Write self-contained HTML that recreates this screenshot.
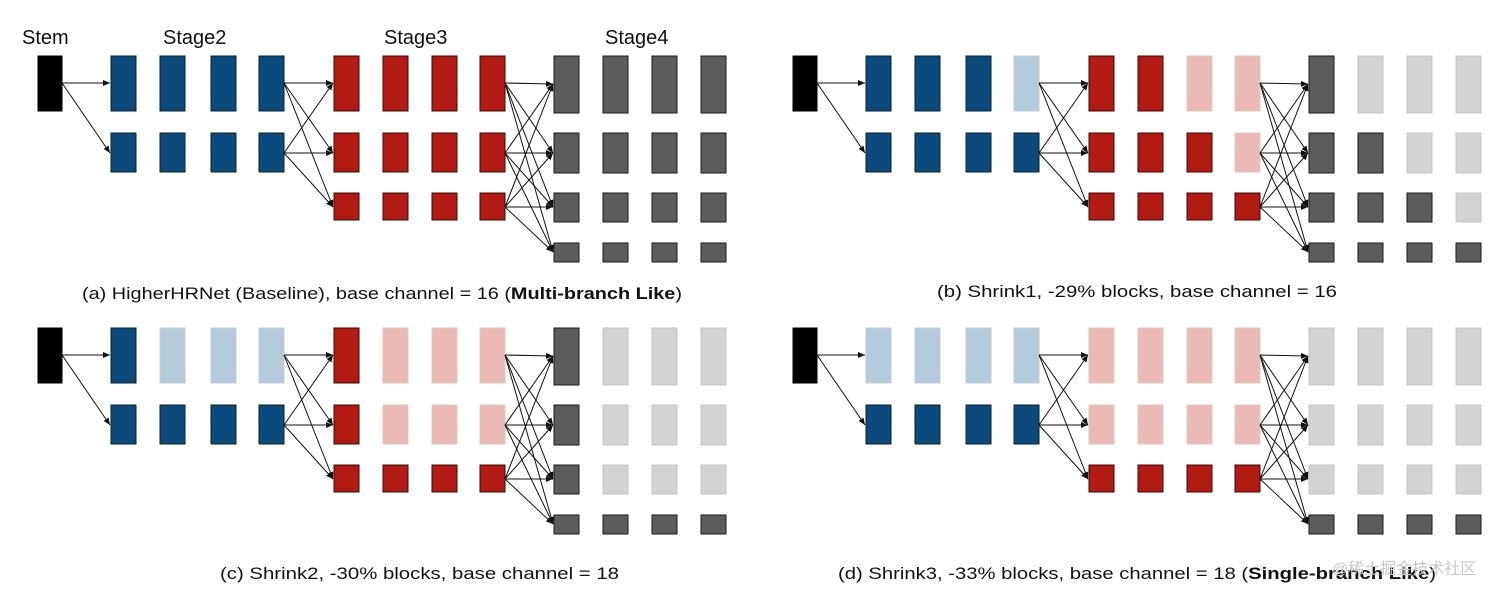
<!DOCTYPE html>
<html><head><meta charset="utf-8"><style>
html,body{margin:0;padding:0;background:#fff;}
svg{display:block;}
.k{fill:#000;stroke:#000;stroke-width:1}
.b{fill:#0b4a7b;stroke:#0a2030;stroke-width:1}
.bl{fill:#b4cbdb;stroke:#c0ccd6;stroke-width:1}
.r{fill:#b21b14;stroke:#3a0806;stroke-width:1}
.rl{fill:#ebbab6;stroke:#dcc8c4;stroke-width:1}
.g{fill:#5c5c5c;stroke:#1a1a1a;stroke-width:1}
.gl{fill:#d3d3d3;stroke:#c4c4c4;stroke-width:1}
line{stroke:#111;stroke-width:1;marker-end:url(#ah)}
text{font-family:"Liberation Sans",Arial,sans-serif;fill:#111}
</style></head><body>
<svg width="1512" height="595" viewBox="0 0 1512 595" xmlns="http://www.w3.org/2000/svg">
<defs>
<marker id="ah" markerWidth="8" markerHeight="8" refX="7" refY="3" orient="auto" markerUnits="userSpaceOnUse">
<path d="M0,0 L7,3 L0,6 z" fill="#111"/></marker>
<g id="arr">
<line x1="62" y1="83" x2="110" y2="83"/><line x1="62" y1="83" x2="110" y2="153"/>
<line x1="284" y1="83" x2="333" y2="83"/><line x1="284" y1="83" x2="333" y2="153"/><line x1="284" y1="83" x2="333" y2="207"/>
<line x1="284" y1="153" x2="333" y2="83"/><line x1="284" y1="153" x2="333" y2="153"/><line x1="284" y1="153" x2="333" y2="207"/>
<line x1="505" y1="83" x2="553" y2="84"/><line x1="505" y1="83" x2="553" y2="153"/><line x1="505" y1="83" x2="553" y2="207"/><line x1="505" y1="83" x2="553" y2="252"/>
<line x1="505" y1="153" x2="553" y2="84"/><line x1="505" y1="153" x2="553" y2="153"/><line x1="505" y1="153" x2="553" y2="207"/><line x1="505" y1="153" x2="553" y2="252"/>
<line x1="505" y1="207" x2="553" y2="84"/><line x1="505" y1="207" x2="553" y2="153"/><line x1="505" y1="207" x2="553" y2="207"/><line x1="505" y1="207" x2="553" y2="252"/>
</g>
</defs>

<text x="22" y="44" font-size="20">Stem</text>
<text x="163" y="44" font-size="20">Stage2</text>
<text x="384" y="44" font-size="20">Stage3</text>
<text x="605" y="44" font-size="20">Stage4</text>

<!-- Panel A -->
<g>
<rect class="k" x="38" y="56" width="24" height="55"/>
<rect class="b" x="111" y="56" width="25" height="55"/><rect class="b" x="160" y="56" width="25" height="55"/><rect class="b" x="211" y="56" width="25" height="55"/><rect class="b" x="259" y="56" width="25" height="55"/>
<rect class="b" x="111" y="133" width="25" height="39"/><rect class="b" x="160" y="133" width="25" height="39"/><rect class="b" x="211" y="133" width="25" height="39"/><rect class="b" x="259" y="133" width="25" height="39"/>
<rect class="r" x="334" y="56" width="25" height="55"/><rect class="r" x="383" y="56" width="25" height="55"/><rect class="r" x="432" y="56" width="25" height="55"/><rect class="r" x="480" y="56" width="25" height="55"/>
<rect class="r" x="334" y="133" width="25" height="39"/><rect class="r" x="383" y="133" width="25" height="39"/><rect class="r" x="432" y="133" width="25" height="39"/><rect class="r" x="480" y="133" width="25" height="39"/>
<rect class="r" x="334" y="193" width="25" height="27"/><rect class="r" x="383" y="193" width="25" height="27"/><rect class="r" x="432" y="193" width="25" height="27"/><rect class="r" x="480" y="193" width="25" height="27"/>
<rect class="g" x="554" y="56" width="25" height="57"/><rect class="g" x="603" y="56" width="25" height="57"/><rect class="g" x="652" y="56" width="25" height="57"/><rect class="g" x="701" y="56" width="25" height="57"/>
<rect class="g" x="554" y="133" width="25" height="40"/><rect class="g" x="603" y="133" width="25" height="40"/><rect class="g" x="652" y="133" width="25" height="40"/><rect class="g" x="701" y="133" width="25" height="40"/>
<rect class="g" x="554" y="193" width="25" height="29"/><rect class="g" x="603" y="193" width="25" height="29"/><rect class="g" x="652" y="193" width="25" height="29"/><rect class="g" x="701" y="193" width="25" height="29"/>
<rect class="g" x="554" y="243" width="25" height="19"/><rect class="g" x="603" y="243" width="25" height="19"/><rect class="g" x="652" y="243" width="25" height="19"/><rect class="g" x="701" y="243" width="25" height="19"/>
<use href="#arr"/>
</g>

<!-- Panel B -->
<g transform="translate(755,0)">
<rect class="k" x="38" y="56" width="24" height="55"/>
<rect class="b" x="111" y="56" width="25" height="55"/><rect class="b" x="160" y="56" width="25" height="55"/><rect class="b" x="211" y="56" width="25" height="55"/><rect class="bl" x="259" y="56" width="25" height="55"/>
<rect class="b" x="111" y="133" width="25" height="39"/><rect class="b" x="160" y="133" width="25" height="39"/><rect class="b" x="211" y="133" width="25" height="39"/><rect class="b" x="259" y="133" width="25" height="39"/>
<rect class="r" x="334" y="56" width="25" height="55"/><rect class="r" x="383" y="56" width="25" height="55"/><rect class="rl" x="432" y="56" width="25" height="55"/><rect class="rl" x="480" y="56" width="25" height="55"/>
<rect class="r" x="334" y="133" width="25" height="39"/><rect class="r" x="383" y="133" width="25" height="39"/><rect class="r" x="432" y="133" width="25" height="39"/><rect class="rl" x="480" y="133" width="25" height="39"/>
<rect class="r" x="334" y="193" width="25" height="27"/><rect class="r" x="383" y="193" width="25" height="27"/><rect class="r" x="432" y="193" width="25" height="27"/><rect class="r" x="480" y="193" width="25" height="27"/>
<rect class="g" x="554" y="56" width="25" height="57"/><rect class="gl" x="603" y="56" width="25" height="57"/><rect class="gl" x="652" y="56" width="25" height="57"/><rect class="gl" x="701" y="56" width="25" height="57"/>
<rect class="g" x="554" y="133" width="25" height="40"/><rect class="g" x="603" y="133" width="25" height="40"/><rect class="gl" x="652" y="133" width="25" height="40"/><rect class="gl" x="701" y="133" width="25" height="40"/>
<rect class="g" x="554" y="193" width="25" height="29"/><rect class="g" x="603" y="193" width="25" height="29"/><rect class="g" x="652" y="193" width="25" height="29"/><rect class="gl" x="701" y="193" width="25" height="29"/>
<rect class="g" x="554" y="243" width="25" height="19"/><rect class="g" x="603" y="243" width="25" height="19"/><rect class="g" x="652" y="243" width="25" height="19"/><rect class="g" x="701" y="243" width="25" height="19"/>
<use href="#arr"/>
</g>

<!-- Panel C -->
<g transform="translate(0,272)">
<rect class="k" x="38" y="56" width="24" height="55"/>
<rect class="b" x="111" y="56" width="25" height="55"/><rect class="bl" x="160" y="56" width="25" height="55"/><rect class="bl" x="211" y="56" width="25" height="55"/><rect class="bl" x="259" y="56" width="25" height="55"/>
<rect class="b" x="111" y="133" width="25" height="39"/><rect class="b" x="160" y="133" width="25" height="39"/><rect class="b" x="211" y="133" width="25" height="39"/><rect class="b" x="259" y="133" width="25" height="39"/>
<rect class="r" x="334" y="56" width="25" height="55"/><rect class="rl" x="383" y="56" width="25" height="55"/><rect class="rl" x="432" y="56" width="25" height="55"/><rect class="rl" x="480" y="56" width="25" height="55"/>
<rect class="r" x="334" y="133" width="25" height="39"/><rect class="rl" x="383" y="133" width="25" height="39"/><rect class="rl" x="432" y="133" width="25" height="39"/><rect class="rl" x="480" y="133" width="25" height="39"/>
<rect class="r" x="334" y="193" width="25" height="27"/><rect class="r" x="383" y="193" width="25" height="27"/><rect class="r" x="432" y="193" width="25" height="27"/><rect class="r" x="480" y="193" width="25" height="27"/>
<rect class="g" x="554" y="56" width="25" height="57"/><rect class="gl" x="603" y="56" width="25" height="57"/><rect class="gl" x="652" y="56" width="25" height="57"/><rect class="gl" x="701" y="56" width="25" height="57"/>
<rect class="g" x="554" y="133" width="25" height="40"/><rect class="gl" x="603" y="133" width="25" height="40"/><rect class="gl" x="652" y="133" width="25" height="40"/><rect class="gl" x="701" y="133" width="25" height="40"/>
<rect class="g" x="554" y="193" width="25" height="29"/><rect class="gl" x="603" y="193" width="25" height="29"/><rect class="gl" x="652" y="193" width="25" height="29"/><rect class="gl" x="701" y="193" width="25" height="29"/>
<rect class="g" x="554" y="243" width="25" height="19"/><rect class="g" x="603" y="243" width="25" height="19"/><rect class="g" x="652" y="243" width="25" height="19"/><rect class="g" x="701" y="243" width="25" height="19"/>
<use href="#arr"/>
</g>

<!-- Panel D -->
<g transform="translate(755,272)">
<rect class="k" x="38" y="56" width="24" height="55"/>
<rect class="bl" x="111" y="56" width="25" height="55"/><rect class="bl" x="160" y="56" width="25" height="55"/><rect class="bl" x="211" y="56" width="25" height="55"/><rect class="bl" x="259" y="56" width="25" height="55"/>
<rect class="b" x="111" y="133" width="25" height="39"/><rect class="b" x="160" y="133" width="25" height="39"/><rect class="b" x="211" y="133" width="25" height="39"/><rect class="b" x="259" y="133" width="25" height="39"/>
<rect class="rl" x="334" y="56" width="25" height="55"/><rect class="rl" x="383" y="56" width="25" height="55"/><rect class="rl" x="432" y="56" width="25" height="55"/><rect class="rl" x="480" y="56" width="25" height="55"/>
<rect class="rl" x="334" y="133" width="25" height="39"/><rect class="rl" x="383" y="133" width="25" height="39"/><rect class="rl" x="432" y="133" width="25" height="39"/><rect class="rl" x="480" y="133" width="25" height="39"/>
<rect class="r" x="334" y="193" width="25" height="27"/><rect class="r" x="383" y="193" width="25" height="27"/><rect class="r" x="432" y="193" width="25" height="27"/><rect class="r" x="480" y="193" width="25" height="27"/>
<rect class="gl" x="554" y="56" width="25" height="57"/><rect class="gl" x="603" y="56" width="25" height="57"/><rect class="gl" x="652" y="56" width="25" height="57"/><rect class="gl" x="701" y="56" width="25" height="57"/>
<rect class="gl" x="554" y="133" width="25" height="40"/><rect class="gl" x="603" y="133" width="25" height="40"/><rect class="gl" x="652" y="133" width="25" height="40"/><rect class="gl" x="701" y="133" width="25" height="40"/>
<rect class="gl" x="554" y="193" width="25" height="29"/><rect class="gl" x="603" y="193" width="25" height="29"/><rect class="gl" x="652" y="193" width="25" height="29"/><rect class="gl" x="701" y="193" width="25" height="29"/>
<rect class="g" x="554" y="243" width="25" height="19"/><rect class="g" x="603" y="243" width="25" height="19"/><rect class="g" x="652" y="243" width="25" height="19"/><rect class="g" x="701" y="243" width="25" height="19"/>
<use href="#arr"/>
</g>

<text x="82" y="299" font-size="17" textLength="600" lengthAdjust="spacingAndGlyphs">(a) HigherHRNet (Baseline), base channel = 16 (<tspan font-weight="bold">Multi-branch Like</tspan>)</text>
<text x="937" y="297" font-size="17" textLength="400" lengthAdjust="spacingAndGlyphs">(b) Shrink1, -29% blocks, base channel = 16</text>
<text x="220" y="579" font-size="17" textLength="399" lengthAdjust="spacingAndGlyphs">(c) Shrink2, -30% blocks, base channel = 18</text>
<text x="838" y="579" font-size="17" textLength="598" lengthAdjust="spacingAndGlyphs">(d) Shrink3, -33% blocks, base channel = 18 (<tspan font-weight="bold">Single-branch Like</tspan>)</text>
<text x="1332" y="574" font-size="16" style="font-family:'Liberation Sans','Noto Sans CJK SC',sans-serif;fill:#c8c8c8">@稀土掘金技术社区</text>
</svg>
</body></html>
